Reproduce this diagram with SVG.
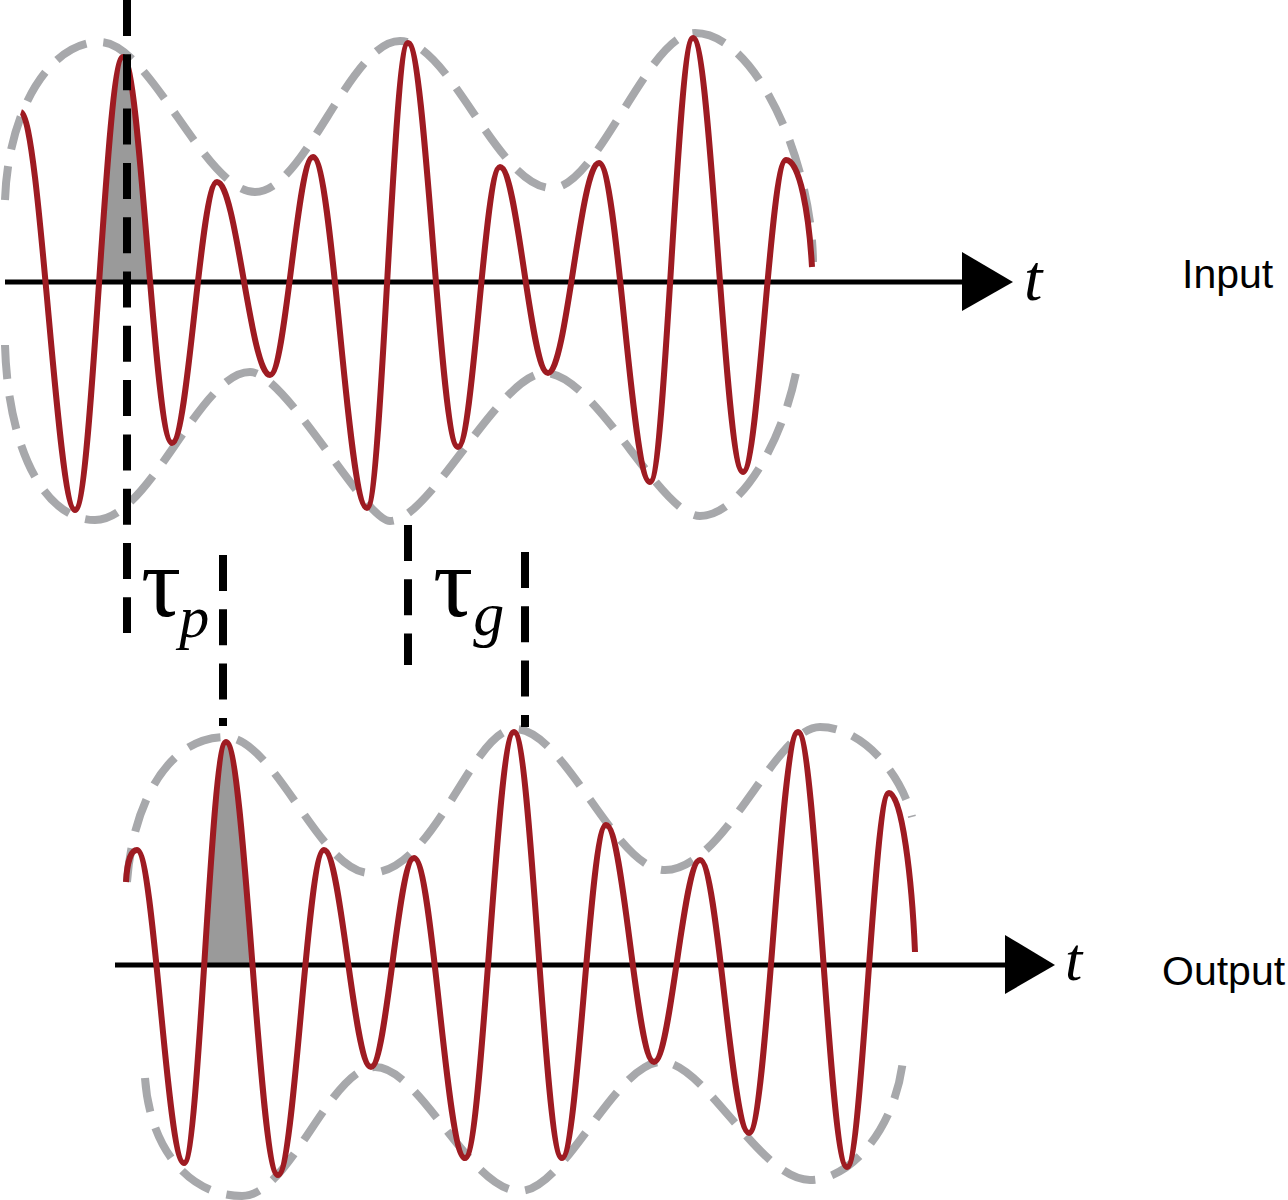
<svg xmlns="http://www.w3.org/2000/svg" width="1288" height="1200" viewBox="0 0 1288 1200">
<style>
.wave{fill:none;stroke:#9e1b22;stroke-width:6;stroke-linejoin:round;stroke-linecap:butt}
.env{fill:none;stroke:#a7a8ab;stroke-width:8;stroke-dasharray:34 17}
.shade{fill:#9a9a9a;stroke:none}
.axis{fill:none;stroke:#000;stroke-width:5}
.mark{fill:none;stroke:#000;stroke-width:8;stroke-dasharray:36 18.3}
.head{fill:#000}
.greek{font-family:"Liberation Serif","DejaVu Serif",serif;fill:#000}
.ital{font-family:"Liberation Serif","DejaVu Serif",serif;font-style:italic;fill:#000}
.lab{font-family:"Liberation Sans",Arial,sans-serif;fill:#000}
</style>
<defs>
<clipPath id="clipTop"><rect x="0" y="0" width="1288" height="282"/></clipPath>
<clipPath id="clipBot"><rect x="0" y="600" width="1288" height="365"/></clipPath>
</defs>
<rect width="1288" height="1200" fill="#fff"/>

<g id="input-signal">
<path class="shade" clip-path="url(#clipTop)" d="M75,510 C92.5,510 105.5,57 123,57 C140.8,57 154.2,443 172,443 Z"/>
<path class="env" d="M5,200 C8,110 50,42 100,42 C150,42 205,192 255,192 C305,192 350,41 400,41 C450,41 498,188 552,188 C598,188 648,33 695,33 C755,33 812,160 813,262"/>
<path class="env" d="M5,345 C8,450 45,520 95,520 C150,520 200,372 250,372 C285,372 365,521 390,521 C430,521 500,373 545,373 C595,373 660,516 700,516 C740,516 785,440 798,362"/>
<path class="axis" d="M5,282 H965"/>
<polygon class="head" points="962,252 1013,282 962,311"/>
<path class="wave" d="M21,112 C40,118 57,510 75,510 C92.5,510 105.5,57 123,57 C140.8,57 154.2,443 172,443 C188.4,443 200.6,182 217,182 C236.3,182 250.7,375 270,375 C285.7,375 297.3,157 313,157 C332.7,157 347.3,508 367,508 C381.9,508 393.1,43 408,43 C426.2,43 439.8,447 458,447 C473.3,447 484.7,167 500,167 C517.5,167 530.5,373 548,373 C566.6,373 580.4,163 599,163 C617.6,163 631.4,482 650,482 C665.7,482 677.3,38 693,38 C711.2,38 724.8,472 743,472 C758.7,472 770.3,160 786,160 C800,160 809,215 812,267"/>
</g>

<g id="output-signal">
<path class="shade" clip-path="url(#clipBot)" d="M184,1163 C199.3,1163 210.7,742 226,742 C244.9,742 259.1,1175 278,1175 Z"/>
<path class="env" d="M127,882 C133,800 170,737 225,737 C275,737 320,873 370,873 C435,873 472,729 515,729 C565,729 615,870 665,870 C725,870 775,727 820,727 C860,727 900,770 912,817"/>
<path class="env" d="M145,1078 C150,1150 190,1196 242,1196 C290,1196 330,1067 375,1067 C420,1067 470,1191 520,1191 C565,1191 615,1062 662,1062 C705,1062 760,1180 810,1180 C850,1180 895,1130 903,1060"/>
<path class="axis" d="M115,965 H1008"/>
<polygon class="head" points="1005,935 1055,965 1005,994"/>
<path class="wave" d="M126,882 C127,862 131,850 137,850 C154.1,850 166.9,1163 184,1163 C199.3,1163 210.7,742 226,742 C244.9,742 259.1,1175 278,1175 C294.7,1175 307.3,850 324,850 C341.1,850 353.9,1067 371,1067 C386.7,1067 398.3,858 414,858 C432.6,858 446.4,1158 465,1158 C482.8,1158 496.2,732 514,732 C531.5,732 544.5,1158 562,1158 C578,1158 590,825 606,825 C623.5,825 636.5,1062 654,1062 C670.7,1062 683.3,860 700,860 C717.8,860 731.2,1133 749,1133 C766.8,1133 780.2,732 798,732 C815.8,732 829.2,1167 847,1167 C862.3,1167 873.7,793 889,793 C902,793 912,880 915,952"/>
</g>

<g id="delay-markers">
<path class="mark" d="M127,0 V633"/>
<path class="mark" d="M223,555 V726"/>
<path class="mark" d="M408,525 V665"/>
<path class="mark" d="M525,552 V727"/>
</g>

<g id="labels">
<text class="greek" x="141" y="616" font-size="100">τ<tspan class="ital" font-size="60" dx="-2" dy="21">p</tspan></text>
<text class="greek" x="433" y="616" font-size="100">τ<tspan class="ital" font-size="62" dx="0" dy="19">g</tspan></text>
<text class="ital" x="1024" y="300" font-size="66">t</text>
<text class="ital" x="1065" y="980" font-size="62">t</text>
<text class="lab" x="1182" y="288" font-size="41">Input</text>
<text class="lab" x="1162" y="985" font-size="41">Output</text>
</g>
</svg>
